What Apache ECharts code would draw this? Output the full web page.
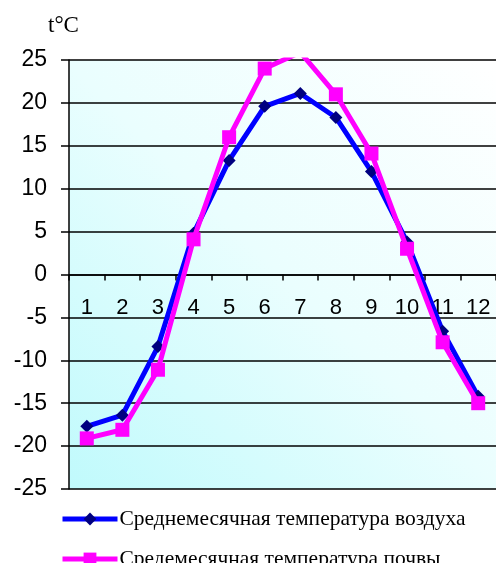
<!DOCTYPE html>
<html><head><meta charset="utf-8">
<script src="https://cdn.jsdelivr.net/npm/echarts@6/dist/echarts.min.js"></script>
<style>html,body{margin:0;padding:0;background:#fff}#c{width:496px;height:563px}</style>
</head><body><div id="c"></div>
<script>
var months = ['1','2','3','4','5','6','7','8','9','10','11','12'];
var airTemp = [-17.7, -16.4, -8.4, 4.8, 13.3, 19.6, 21.1, 18.3, 12.0, 3.8, -6.6, -14.2];
var soilTemp = [-19.1, -18.1, -11.1, 4.1, 16.0, 24.0, 25.9, 21.0, 14.1, 3.0, -7.9, -15.0];
var airName = 'Среднемесячная температура воздуха';
var soilName = 'Средемесячная температура почвы';
var unitLabel = 't°C';

var chart = echarts.init(document.getElementById('c'), null, {renderer:'canvas'});
chart.setOption({
  animation: false,
  backgroundColor: '#fff',
  title: {
    text: unitLabel, left: 43, top: 9,
    textStyle: {fontFamily: 'Liberation Serif', fontSize: 23, fontWeight: 'normal', color: '#000'}
  },
  grid: {
    left: 69, top: 60, width: 429, height: 429,
    show: true, borderWidth: 0,
    backgroundColor: {type:'linear', x:0, y:1, x2:1, y2:0, colorStops:[
      {offset:0, color:'#c0fafc'}, {offset:0.5, color:'#eafefe'}, {offset:1, color:'#ffffff'}]}
  },
  legend: {
    orient: 'vertical', left: 60, top: 508, itemGap: 18, padding: 0,
    height: 100,
    itemWidth: 55, itemHeight: 16,
    lineStyle: {width: 5},
    textStyle: {fontFamily: 'Liberation Serif', fontSize: 21.5, color: '#000', padding: [3,0,0,-3]},
    data: [airName, soilName]
  },
  xAxis: [{
    type: 'category', data: months, boundaryGap: true,
    axisLine: {onZero: true, lineStyle: {color: '#000', width: 1.5}},
    axisTick: {show: true, length: 6, lineStyle: {color: '#000', width: 1.5}},
    axisLabel: {show: false},
    splitLine: {show: false}
  }, {
    type: 'category', data: months, boundaryGap: true, position: 'bottom',
    axisLine: {show: false, onZero: false},
    axisTick: {show: false},
    axisLabel: {margin: -192, fontFamily: 'Liberation Sans', fontSize: 22, color: '#000'},
    splitLine: {show: false}
  }],
  yAxis: {
    type: 'value', min: -25, max: 25, interval: 5,
    axisLine: {show: true, lineStyle: {color: '#000', width: 1.5}},
    axisTick: {show: true, length: 8, lineStyle: {color: '#000', width: 1.5}},
    axisLabel: {margin: 22, fontFamily: 'Liberation Sans', fontSize: 23, color: '#000'},
    splitLine: {show: true, lineStyle: {color: '#000', width: 1.5}}
  },
  series: [
    {
      name: airName, type: 'line', data: airTemp, z: 3,
      symbol: 'diamond', symbolSize: 13,
      lineStyle: {color: '#0000ff', width: 5},
      itemStyle: {color: '#000080', borderWidth: 0},
      clip: true
    },
    {
      name: soilName, type: 'line', data: soilTemp, z: 4,
      symbol: 'rect', symbolSize: 14,
      lineStyle: {color: '#ff00ff', width: 5},
      itemStyle: {color: '#ff00ff', borderWidth: 0},
      clip: true
    }
  ]
});
</script></body></html>
